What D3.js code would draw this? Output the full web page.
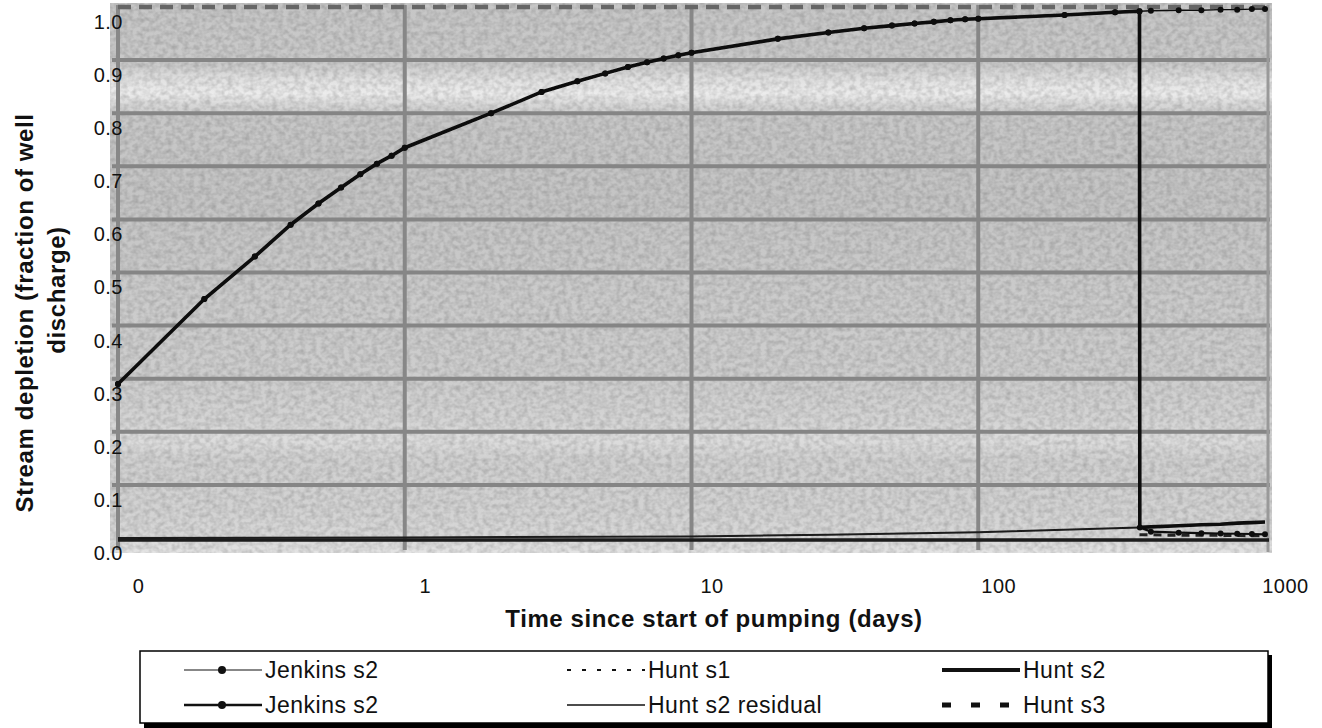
<!DOCTYPE html>
<html>
<head>
<meta charset="utf-8">
<title>Stream depletion</title>
<script src="https://cdn.jsdelivr.net/npm/d3@7"></script>
<style>
  body { margin: 0; background: #fff; }
  text { font-family: "Liberation Sans", Arial, sans-serif; fill: #111; }
  .tick text { font-size: 20px; letter-spacing: 0.5px; }
  .title { font-size: 24px; font-weight: bold; letter-spacing: 0.6px; }
  .leg text { font-size: 23px; letter-spacing: 0.5px; }
</style>
</head>
<body>
<script>
// data
var times = [0.1,0.2,0.3,0.4,0.5,0.6,0.7,0.8,0.9,1,2,3,4,5,6,7,8,9,10,20,30,40,50,60,70,80,90,100,200,300,365,400,500,600,700,800,900,1000];
var jenkinsCont = [0.29,0.45,0.53,0.59,0.63,0.66,0.685,0.705,0.72,0.735,0.80,0.84,0.86,0.875,0.887,0.896,0.903,0.909,0.914,0.94,0.952,0.96,0.965,0.969,0.972,0.975,0.977,0.978,0.985,0.99,0.992,0.993,0.994,0.994,0.995,0.995,0.996,0.996];

var pumpTimes = [0.1,0.2,0.3,0.4,0.5,0.6,0.7,0.8,0.9,1,2,3,4,5,6,7,8,9,10,20,30,40,50,60,70,80,90,100,200,300,365];
var jenkinsPump = [0.29,0.45,0.53,0.59,0.63,0.66,0.685,0.705,0.72,0.735,0.80,0.84,0.86,0.875,0.887,0.896,0.903,0.909,0.914,0.94,0.952,0.96,0.965,0.969,0.972,0.975,0.977,0.978,0.985,0.99,0.992];
var huntPump = [0.29,0.45,0.53,0.59,0.63,0.66,0.685,0.705,0.72,0.735,0.80,0.84,0.86,0.875,0.887,0.896,0.903,0.909,0.914,0.94,0.952,0.96,0.965,0.969,0.972,0.975,0.977,0.978,0.985,0.99,0.992];

var recoveryTimes = [366,400,500,600,700,800,900,1000];
var jenkinsRecovery = [0.02,0.012,0.010,0.009,0.0085,0.008,0.0075,0.007];
var huntRecovery = [0.02,0.021,0.023,0.025,0.026,0.028,0.029,0.03];

var residTimes = [0.1,1,10,30,100,365,1000];
var huntResid = [0.0,0.001,0.003,0.006,0.011,0.02,0.03];

var s3Times = [365,400,500,700,1000];
var huntS3 = [0.006,0.006,0.005,0.005,0.004];

var s1Times = [0.1,1000];
var huntS1 = [1.0,1.0];

var xTicks = [0.1,1,10,100,1000];
var xTickLabels = ["0","1","10","100","1000"];
var yTicks = [0,0.1,0.2,0.3,0.4,0.5,0.6,0.7,0.8,0.9,1.0];

var W = 1322, H = 728;
var svg = d3.select("body").append("svg").attr("width", W).attr("height", H);

var x = d3.scaleLog().domain([0.1, 1000]).range([118, 1265]);
var y = d3.scaleLinear().domain([0, 1]).range([538, 7]);

var defs = svg.append("defs");
var grad = defs.append("linearGradient").attr("id", "bg")
    .attr("gradientUnits", "userSpaceOnUse")
    .attr("x1", 0).attr("y1", 3).attr("x2", 0).attr("y2", 553);
[[0,"#c6c6c6"],[0.11,"#c9c9c9"],[0.14,"#e2e2e2"],[0.165,"#ececec"],[0.187,"#d6d6d6"],
 [0.21,"#c7c7c7"],[0.36,"#c4c4c4"],[0.54,"#cbcbcb"],[0.685,"#cdcdcd"],[0.76,"#d4d4d4"],
 [0.795,"#dddddd"],[0.83,"#d0d0d0"],[0.92,"#d2d2d2"],[0.975,"#d8d8d8"],[1,"#e4e4e4"]]
  .forEach(function (s) { grad.append("stop").attr("offset", s[0]).attr("stop-color", s[1]); });

var noise = defs.append("filter").attr("id", "noise").attr("x", 0).attr("y", 0).attr("width", 1).attr("height", 1);
noise.append("feTurbulence").attr("type", "fractalNoise").attr("baseFrequency", "0.18 0.22").attr("numOctaves", 2).attr("seed", 4);
noise.append("feColorMatrix").attr("values", "0 0 0 0 0  0 0 0 0 0  0 0 0 0 0  0.3 0 0 0 -0.1");

var soft = defs.append("filter").attr("id", "soft");
soft.append("feGaussianBlur").attr("stdDeviation", 0.7);

// plot background
svg.append("rect").attr("x", 110).attr("y", 3).attr("width", 1162).attr("height", 550).attr("fill", "url(#bg)");
svg.append("rect").attr("x", 110).attr("y", 3).attr("width", 1162).attr("height", 550)
    .attr("fill", "#000").attr("filter", "url(#noise)");

var plot = svg.append("g").attr("filter", "url(#soft)");

// gridlines
plot.selectAll(".hgrid").data(yTicks.slice(1, 10)).enter().append("line")
    .attr("x1", 112).attr("x2", 1270)
    .attr("y1", function (d) { return y(d); }).attr("y2", function (d) { return y(d); })
    .attr("stroke", "#858585").attr("stroke-width", 4);
plot.selectAll(".vgrid").data([1, 10, 100]).enter().append("line")
    .attr("x1", function (d) { return x(d); }).attr("x2", function (d) { return x(d); })
    .attr("y1", 5).attr("y2", 550)
    .attr("stroke", "#878787").attr("stroke-width", 4);
// plot borders
plot.append("line").attr("x1", x(0.1)).attr("x2", x(0.1)).attr("y1", 5).attr("y2", 550)
    .attr("stroke", "#888").attr("stroke-width", 4);
plot.append("line").attr("x1", x(1000) + 3).attr("x2", x(1000) + 3).attr("y1", 5).attr("y2", 552)
    .attr("stroke", "#999").attr("stroke-width", 3);
plot.append("line").attr("x1", x(0.1)).attr("x2", x(1000) + 4).attr("y1", y(0) + 2).attr("y2", y(0) + 2)
    .attr("stroke", "#1a1a1a").attr("stroke-width", 3.5);

function pts(ts, vs) { return ts.map(function (t, i) { return [t, vs[i]]; }); }
var line = d3.line().x(function (d) { return x(d[0]); }).y(function (d) { return y(d[1]); });

var jenkinsStop = pts(pumpTimes, jenkinsPump).concat(pts(recoveryTimes, jenkinsRecovery));
var huntStop = pts(pumpTimes, huntPump).concat(pts(recoveryTimes, huntRecovery));

// Hunt s1 (top dashed)
plot.append("path").datum(pts(s1Times, huntS1)).attr("d", line)
    .attr("fill", "none").attr("stroke", "#666").attr("stroke-width", 4.5).attr("stroke-dasharray", "13,8");
// Hunt s2 residual
plot.append("path").datum(pts(residTimes, huntResid)).attr("d", line)
    .attr("fill", "none").attr("stroke", "#1a1a1a").attr("stroke-width", 2);
// Hunt s3
plot.append("path").datum(pts(s3Times, huntS3)).attr("d", line)
    .attr("fill", "none").attr("stroke", "#222").attr("stroke-width", 3).attr("stroke-dasharray", "8,6");
// Hunt s2
plot.append("path").datum(huntStop).attr("d", line)
    .attr("fill", "none").attr("stroke", "#111").attr("stroke-width", 3.6);
// Jenkins s2 continuous
plot.append("path").datum(pts(times, jenkinsCont)).attr("d", line)
    .attr("fill", "none").attr("stroke", "#111").attr("stroke-width", 1.4);
plot.selectAll(".mc").data(pts(times, jenkinsCont)).enter().append("circle")
    .attr("cx", function (d) { return x(d[0]); }).attr("cy", function (d) { return y(d[1]); })
    .attr("r", 3).attr("fill", "#111");
// Jenkins s2 with pumping stopped
plot.append("path").datum(jenkinsStop).attr("d", line)
    .attr("fill", "none").attr("stroke", "#111").attr("stroke-width", 2.2);
plot.selectAll(".ms").data(jenkinsStop).enter().append("circle")
    .attr("cx", function (d) { return x(d[0]); }).attr("cy", function (d) { return y(d[1]); })
    .attr("r", 3).attr("fill", "#111");

// axes
var xAxis = svg.append("g").attr("transform", "translate(0," + y(0) + ")")
    .call(d3.axisBottom(x).tickValues(xTicks).tickFormat(function (d, i) { return xTickLabels[i]; })
        .tickSize(0).tickPadding(41));
xAxis.select(".domain").remove();
xAxis.selectAll("text").attr("dx", 20);

var yAxis = svg.append("g").attr("transform", "translate(" + x(0.1) + ",0)")
    .call(d3.axisLeft(y).tickValues(yTicks).tickFormat(d3.format(".1f")).tickSize(0));
yAxis.select(".domain").remove();
yAxis.selectAll("text").attr("x", 5).attr("transform", "translate(0,15)");
svg.selectAll(".tick text").attr("fill", "#111").style("font-size", "20px");

// axis titles
svg.append("text").attr("class", "title").attr("x", 714).attr("y", 627)
    .attr("text-anchor", "middle").text("Time since start of pumping (days)");
svg.append("text").attr("class", "title").attr("text-anchor", "middle")
    .attr("transform", "translate(33,313) rotate(-90)").text("Stream depletion (fraction of well");
svg.append("text").attr("class", "title").attr("text-anchor", "middle")
    .attr("transform", "translate(65,290) rotate(-90)").text("discharge)");

// legend
var leg = svg.append("g").attr("class", "leg");
leg.append("rect").attr("x", 144).attr("y", 655).attr("width", 1128).attr("height", 73).attr("fill", "#000");
leg.append("rect").attr("x", 140).attr("y", 651).attr("width", 1128).attr("height", 72)
    .attr("fill", "#fff").attr("stroke", "#000").attr("stroke-width", 1.5);

var legendItems = [
  {name: "Jenkins s2", col: 0, row: 0, w: 1.2, dash: null, dot: true},
  {name: "Jenkins s2", col: 0, row: 1, w: 2.6, dash: null, dot: true},
  {name: "Hunt s1", col: 1, row: 0, w: 2, dash: "4,11", dot: false},
  {name: "Hunt s2 residual", col: 1, row: 1, w: 1.6, dash: null, dot: false},
  {name: "Hunt s2", col: 2, row: 0, w: 4, dash: null, dot: false},
  {name: "Hunt s3", col: 2, row: 1, w: 5, dash: "9,20", dot: false}
];
var colX = [184, 567, 942];
var rowY = [678, 713];
legendItems.forEach(function (d) {
  var x0 = colX[d.col], by = rowY[d.row];
  leg.append("line").attr("x1", x0).attr("x2", x0 + 78).attr("y1", by - 8).attr("y2", by - 8)
      .attr("stroke", "#111").attr("stroke-width", d.w).attr("stroke-dasharray", d.dash);
  if (d.dot) leg.append("circle").attr("cx", x0 + 38).attr("cy", by - 8).attr("r", 4).attr("fill", "#111");
  leg.append("text").attr("x", x0 + 81).attr("y", by).text(d.name);
});
</script>
</body>
</html>
